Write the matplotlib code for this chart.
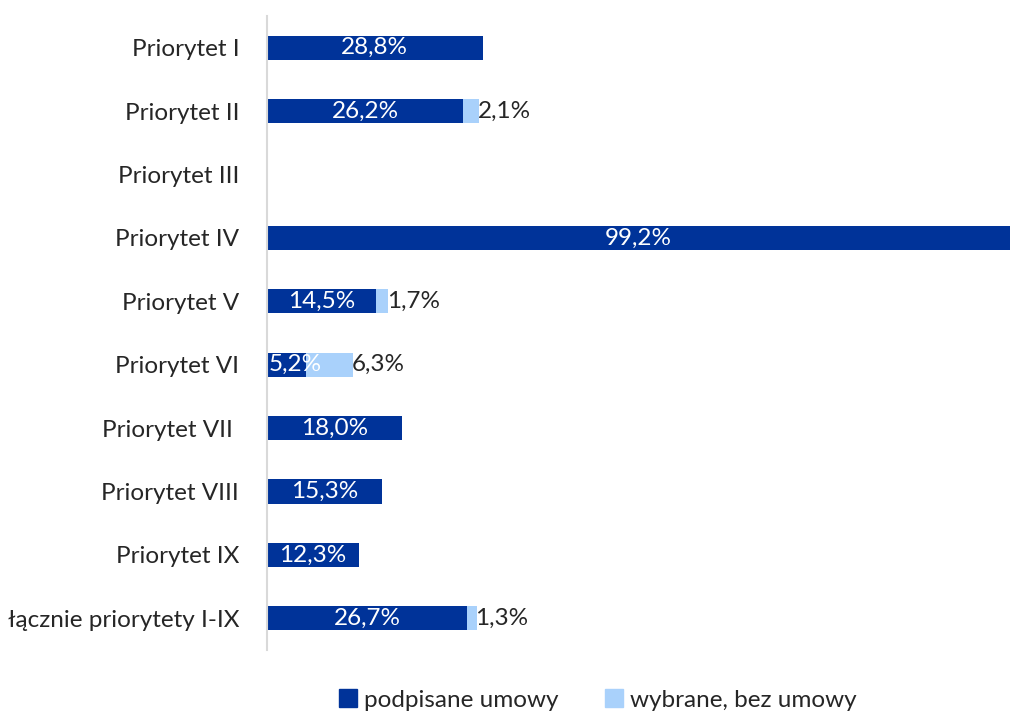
import matplotlib
matplotlib.use('Agg')
import matplotlib.pyplot as plt
from matplotlib.patches import Patch
from matplotlib.transforms import offset_copy

categories = ['Priorytet I', 'Priorytet II', 'Priorytet III', 'Priorytet IV',
              'Priorytet V', 'Priorytet VI', 'Priorytet VII ', 'Priorytet VIII',
              'Priorytet IX', 'łącznie priorytety I-IX']
signed = [28.8, 26.2, 0, 99.2, 14.5, 5.2, 18.0, 15.3, 12.3, 26.7]
selected = [0, 2.1, 0, 0, 1.7, 6.3, 0, 0, 0, 1.3]
series_names = ['podpisane umowy', 'wybrane, bez umowy']

dark = '#003399'
light = '#A9D1FB'
text_col = '#262626'
fs = 17.5

plt.rcParams['font.family'] = ['Lato', 'DejaVu Sans']

def fmt(v):
    return f'{v:.1f}%'.replace('.', ',')

fig = plt.figure(figsize=(10.1, 7.15), dpi=100)
ax = fig.add_axes([267 / 1010, 1 - 650 / 715, 1 - 267 / 1010, (650 - 16) / 715])

y = list(range(len(categories)))
ax.barh(y, signed, height=0.38, color=dark)
ax.barh(y, selected, left=signed, height=0.38, color=light)

ax.set_xlim(0, 99.2)
ax.set_ylim(len(categories) - 0.5, -0.5)

renderer = fig.canvas.get_renderer()
ax_left = ax.get_window_extent(renderer).x0
for i in y:
    if signed[i] > 0:
        t = ax.text(signed[i] / 2, i, fmt(signed[i]), ha='center', va='center',
                    color='white', fontsize=fs, clip_on=False)
        # keep label inside the plot area, like the original
        bb = t.get_window_extent(renderer)
        if bb.x0 < ax_left + 2:
            t.set_transform(offset_copy(ax.transData, fig=fig,
                                        x=(ax_left + 2 - bb.x0) * 72 / fig.dpi,
                                        units='points'))
    if selected[i] > 0:
        ax.text(signed[i] + selected[i] - 0.2, i, fmt(selected[i]), ha='left',
                va='center', color=text_col, fontsize=fs)

ax.set_yticks(y)
ax.set_yticklabels(categories, fontsize=fs, color=text_col)
ax.tick_params(axis='y', length=0, pad=20)
ax.set_xticks([])
for s in ['top', 'right', 'bottom']:
    ax.spines[s].set_visible(False)
ax.spines['left'].set_color('#D9D9D9')
ax.spines['left'].set_linewidth(1.5)

handles = [Patch(color=dark), Patch(color=light)]
fig.legend(handles, series_names, loc='center', bbox_to_anchor=(0.592, 1 - 700 / 715),
           ncol=2, frameon=False, fontsize=fs, handlelength=0.75, handleheight=0.75,
           handletextpad=0.3, columnspacing=1.9, labelcolor=text_col)

fig.savefig('out.png', dpi=100)
